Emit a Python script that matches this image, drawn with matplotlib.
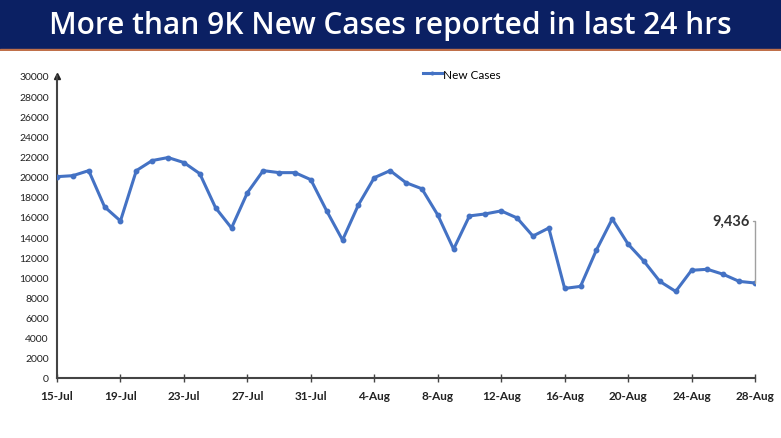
import matplotlib
matplotlib.use("Agg")
import matplotlib.pyplot as plt
import matplotlib.dates as mdates
import pandas as pd
import numpy as np

title = "More than 9K New Cases reported in last 24 hrs"
series_name = "New Cases"
dates = pd.date_range("2020-07-15", "2020-08-28", freq="D")
new_cases = [20000, 20100, 20600, 17000, 15600, 20600, 21600, 21900, 21400, 20300,
             16900, 14900, 18400, 20600, 20400, 20400, 19700, 16600, 13700, 17200,
             19900, 20600, 19400, 18800, 16200, 12800, 16100, 16300, 16600, 15900,
             14100, 14900, 8900, 9100, 12700, 15800, 13300, 11600, 9600, 8600,
             10700, 10800, 10300, 9600, 9436]
last_label = "9,436"
y_ticks = list(range(0, 30001, 2000))

plt.rcParams['font.family'] = ['Lato', 'DejaVu Sans']

fig = plt.figure(figsize=(7.81, 4.39), dpi=100)
fig.patch.set_facecolor("white")

# Banner
banner = fig.add_axes([0, 1 - 52/439, 1, 52/439])
banner.set_axis_off()
banner.add_patch(plt.Rectangle((0, 0), 1, 1, transform=banner.transAxes,
                               color="#0b2063", zorder=0))
banner.add_patch(plt.Rectangle((0, 0), 1, 0.04, transform=banner.transAxes,
                               color="#c0704a", zorder=1))
banner.text(0.5, 0.50, title, ha="center", va="center", color="white",
            fontsize=21.5, fontweight="semibold", family=['Open Sans', 'DejaVu Sans'],
            transform=banner.transAxes)

ax = fig.add_axes([57/781, 1 - 379/439, (755 - 57)/781, (379 - 77)/439])
x = mdates.date2num(dates)
ax.plot(x, new_cases, color="#4472c4", linewidth=2.2, marker="o",
        markersize=3.2, label=series_name, zorder=3)

ax.set_xlim(x[0], x[-1])
ax.set_ylim(0, 30000)
ax.set_yticks(y_ticks)
ax.set_yticklabels([str(v) for v in y_ticks], fontsize=7.5, color="#222222")
xt = x[::4]
ax.set_xticks(xt)
ax.set_xticklabels([f"{d.day}-{d.strftime('%b')}" for d in dates[::4]],
                   fontsize=8.5, fontweight="bold", color="#222222")
ax.tick_params(axis="x", direction="inout", length=6, width=1, color="#444444", pad=6)
ax.tick_params(axis="y", length=0, pad=6)

for s in ["top", "right"]:
    ax.spines[s].set_visible(False)
for s in ["left", "bottom"]:
    ax.spines[s].set_color("#444444")
    ax.spines[s].set_linewidth(1.5)
ax.plot(0, 1, marker="^", color="#222222", markersize=4,
        transform=ax.transAxes, clip_on=False)

# annotation for last point
ax.annotate(last_label, xy=(x[-1], new_cases[-1]), xytext=(x[-1] - 0.3, 15600),
            fontsize=10.5, fontweight="bold", color="#333333", ha="right", va="center",
            arrowprops=dict(arrowstyle="-", color="#a0a0a0", lw=1,
                            connectionstyle="angle,angleA=0,angleB=90,rad=0",
                            shrinkA=0, shrinkB=0))

leg = ax.legend(loc="upper center", bbox_to_anchor=(0.58, 1.06), frameon=False,
                fontsize=8.5, handlelength=1.6, handletextpad=0.1, markerscale=0.6)

fig.savefig("out.png", dpi=100)
